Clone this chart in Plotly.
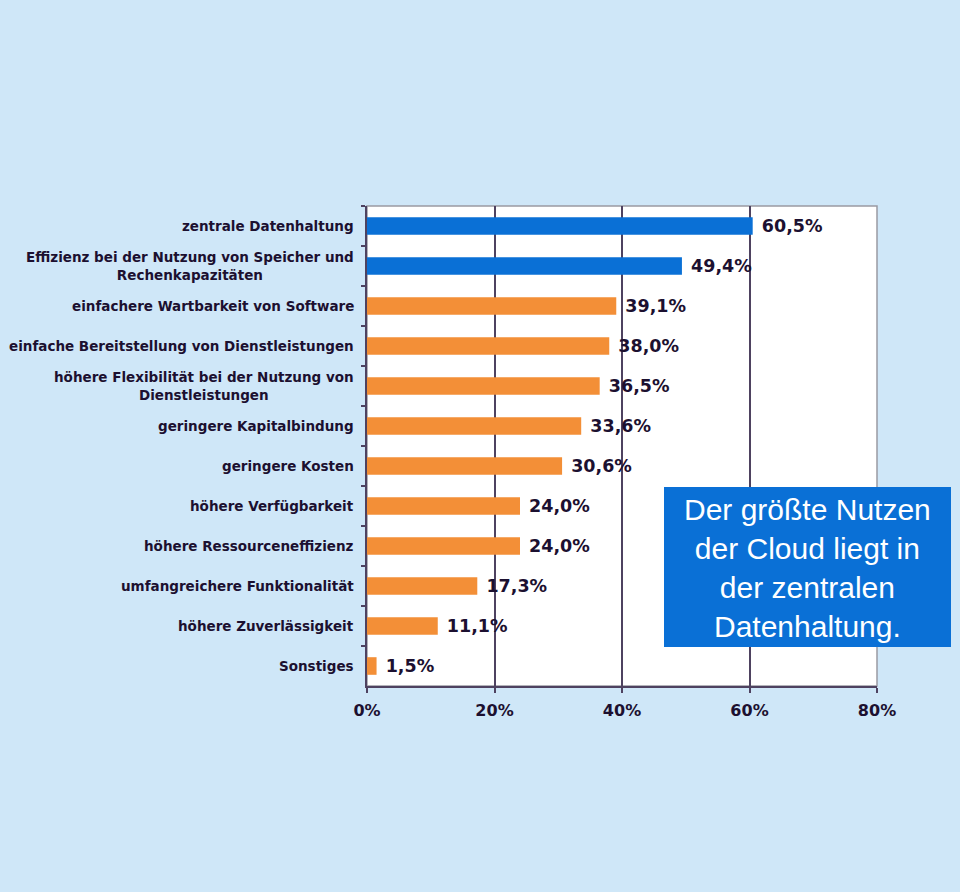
import plotly.graph_objects as go

categories = [
    "zentrale Datenhaltung",
    "Effizienz bei der Nutzung von Speicher und<br>Rechenkapazitäten",
    "einfachere Wartbarkeit von Software",
    "einfache Bereitstellung von Dienstleistungen",
    "höhere Flexibilität bei der Nutzung von<br>Dienstleistungen",
    "geringere Kapitalbindung",
    "geringere Kosten",
    "höhere Verfügbarkeit",
    "höhere Ressourceneffizienz",
    "umfangreichere Funktionalität",
    "höhere Zuverlässigkeit",
    "Sonstiges",
]
values = [60.5, 49.4, 39.1, 38.0, 36.5, 33.6, 30.6, 24.0, 24.0, 17.3, 11.1, 1.5]
highlight = [True, True, False, False, False, False, False, False, False, False, False, False]
x_ticks = [0, 20, 40, 60, 80]
x_ticklabels = ["0%", "20%", "40%", "60%", "80%"]
callout = "Der größte Nutzen<br>der Cloud liegt in<br>der zentralen<br>Datenhaltung."

BG = "#cfe7f8"
BLUE = "#0a70d6"
ORANGE = "#f38f37"
TXT = "#1c1030"
GRID = "#4e4260"

bar_colors = [BLUE if h else ORANGE for h in highlight]
labels = ["\u00a0" + f"{v:.1f}".replace(".", ",") + "%" for v in values]

fig = go.Figure()
fig.add_trace(go.Bar(
    x=values, y=categories, orientation="h",
    marker=dict(color=bar_colors, line=dict(width=0)),
    width=0.44,
    text=labels, textposition="outside", cliponaxis=False, constraintext="none",
    textfont=dict(family="DejaVu Sans", size=17.5, color=TXT, weight="bold"),
    hoverinfo="skip",
))

for c in categories:
    fig.add_annotation(
        x=0, xref="paper", y=c, yref="y", text=c, showarrow=False,
        xanchor="right", yanchor="middle", align="center", xshift=-11,
        font=dict(family="DejaVu Sans", size=13.5, color=TXT, weight="bold"),
    )

# plot border (top/right light gray)
fig.add_shape(type="rect", xref="paper", yref="paper", x0=0, x1=1, y0=0, y1=1,
              line=dict(color="#9a9aa2", width=1.5), layer="below")

# callout box
fig.add_shape(type="rect", xref="paper", yref="paper",
              x0=(664 - 367) / 510, x1=(951 - 367) / 510,
              y0=(686 - 647) / 480, y1=(686 - 487) / 480,
              fillcolor=BLUE, line=dict(width=0), layer="above")
fig.add_annotation(
    x=(807.5 - 367) / 510, xref="paper", y=(686 - 568) / 480, yref="paper",
    text=callout, showarrow=False, xanchor="center", yanchor="middle", align="center",
    font=dict(family="Liberation Sans", size=30, color="white"),
)

fig.update_xaxes(
    range=[0, 80], tickvals=x_ticks, ticktext=x_ticklabels,
    showgrid=True, gridcolor=GRID, gridwidth=1.5,
    showline=True, linecolor=GRID, linewidth=1.5,
    ticks="outside", ticklen=5, tickcolor=GRID, tickwidth=1.5,
    ticklabelstandoff=4,
    tickfont=dict(family="DejaVu Sans", size=16, color=TXT, weight="bold"),
    zeroline=False, fixedrange=True,
)
fig.update_yaxes(
    autorange="reversed", showticklabels=False,
    ticks="outside", tickson="boundaries", ticklen=4, tickcolor=GRID, tickwidth=1.5,
    showline=True, linecolor=GRID, linewidth=1.5,
    showgrid=False, fixedrange=True,
)
fig.update_layout(
    width=960, height=892,
    margin=dict(l=367, r=83, t=206, b=206),
    paper_bgcolor=BG, plot_bgcolor="white",
    showlegend=False, bargap=0.56,
)
fig.write_html("out.html")
